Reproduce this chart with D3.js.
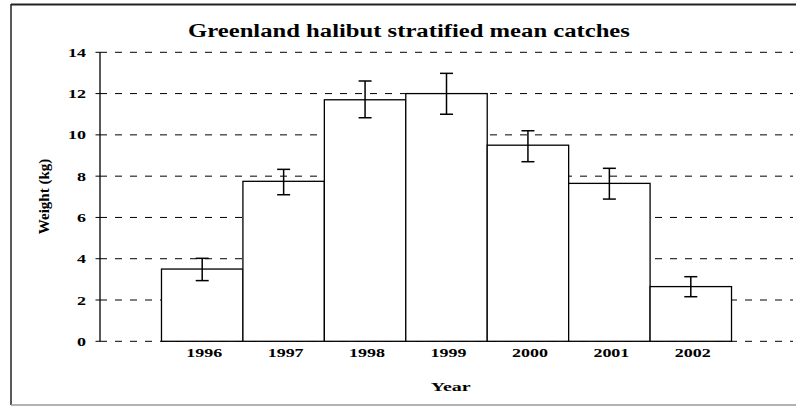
<!DOCTYPE html>
<html><head><meta charset="utf-8">
<script src="https://cdn.jsdelivr.net/npm/d3@7/dist/d3.min.js"></script>
<style>html,body{margin:0;padding:0;background:#fff;}svg{display:block;} text{font-family:'Liberation Serif','Times New Roman',Times,serif;font-weight:bold;}</style>
</head><body>
<svg id="c" width="796" height="406"></svg>
<script>
const years = ['1996','1997','1998','1999','2000','2001','2002'];
const means = [3.5, 7.75, 11.7, 12.0, 9.5, 7.65, 2.65];
const upper = [4.02, 8.33, 12.61, 12.98, 10.2, 8.38, 3.13];
const lower = [2.94, 7.1, 10.83, 11.0, 8.7, 6.89, 2.16];
const yTicks = [0, 2, 4, 6, 8, 10, 12, 14];
const title = 'Greenland halibut stratified mean catches';
const xTitle = 'Year';
const yTitle = 'Weight (kg)';

const svg = d3.select('#c');

// frame
svg.append('line').attr('x1',11).attr('x2',796).attr('y1',4.5).attr('y2',4.5).attr('stroke','#222').attr('stroke-width',1.8);
svg.append('line').attr('x1',11).attr('x2',11).attr('y1',4).attr('y2',405).attr('stroke','#222').attr('stroke-width',1.5);
svg.append('line').attr('x1',11).attr('x2',796).attr('y1',405).attr('y2',405).attr('stroke','#999').attr('stroke-width',1.5);

const y = d3.scaleLinear().domain([0,14]).range([341.3,52.3]);
const x = d3.scaleBand().domain(years).range([100,793]).paddingInner(0).paddingOuter(0.755);

// horizontally stretched text helper
function stext(g, str, px, py, size, target, anchor){
  const t = g.append('text').text(str)
    .attr('font-size',size).attr('text-anchor',anchor||'middle').attr('fill','#000');
  const w = t.node().getComputedTextLength();
  const sx = target ? target / w : 1;
  t.attr('transform',`translate(${px},${py}) scale(${sx},1)`);
  return t;
}

// gridlines
svg.append('g').selectAll('line').data(yTicks).join('line')
  .attr('x1',100).attr('x2',793).attr('y1',d=>y(d)).attr('y2',d=>y(d))
  .attr('stroke','#000').attr('stroke-width',1).attr('stroke-dasharray','7,8');

// y axis
const ya = svg.append('g');
ya.append('line').attr('x1',100).attr('x2',100).attr('y1',y(14)).attr('y2',y(0)).attr('stroke','#000').attr('stroke-width',1.3);
ya.selectAll('line.t').data(yTicks).join('line').attr('class','t')
  .attr('x1',95.5).attr('x2',100).attr('y1',d=>y(d)).attr('y2',d=>y(d)).attr('stroke','#000').attr('stroke-width',1);
yTicks.forEach(d=>{
  const s = String(d);
  stext(ya, s, 86, y(d)+4.6, 13.5, s.length*9, 'end');
});

// bars
svg.append('g').selectAll('rect').data(years).join('rect')
  .attr('x',d=>x(d)).attr('width',x.bandwidth())
  .attr('y',(d,i)=>y(means[i])).attr('height',(d,i)=>y(0)-y(means[i]))
  .attr('fill','#fff').attr('stroke','#000').attr('stroke-width',1.3);

// error bars
const eb = svg.append('g').attr('stroke','#000').attr('stroke-width',1.5);
years.forEach((d,i)=>{
  const cx = x(d)+x.bandwidth()/2;
  eb.append('line').attr('x1',cx).attr('x2',cx).attr('y1',y(upper[i])).attr('y2',y(lower[i]));
  eb.append('line').attr('x1',cx-6.5).attr('x2',cx+6.5).attr('y1',y(upper[i])).attr('y2',y(upper[i]));
  eb.append('line').attr('x1',cx-6.5).attr('x2',cx+6.5).attr('y1',y(lower[i])).attr('y2',y(lower[i]));
});

// x labels
const xl = svg.append('g');
years.forEach(d=>{
  stext(xl, d, x(d)+x.bandwidth()/2+2, 357, 13.5, 36, 'middle');
});
stext(svg, xTitle, 450.7, 391, 13.5, 40, 'middle');

// title
stext(svg, title, 409, 37, 19.5, 442, 'middle');

// y title
svg.append('text').text(yTitle)
  .attr('font-size',15).attr('text-anchor','middle')
  .attr('transform','translate(49,196.5) rotate(-90)');
</script>
</body></html>
